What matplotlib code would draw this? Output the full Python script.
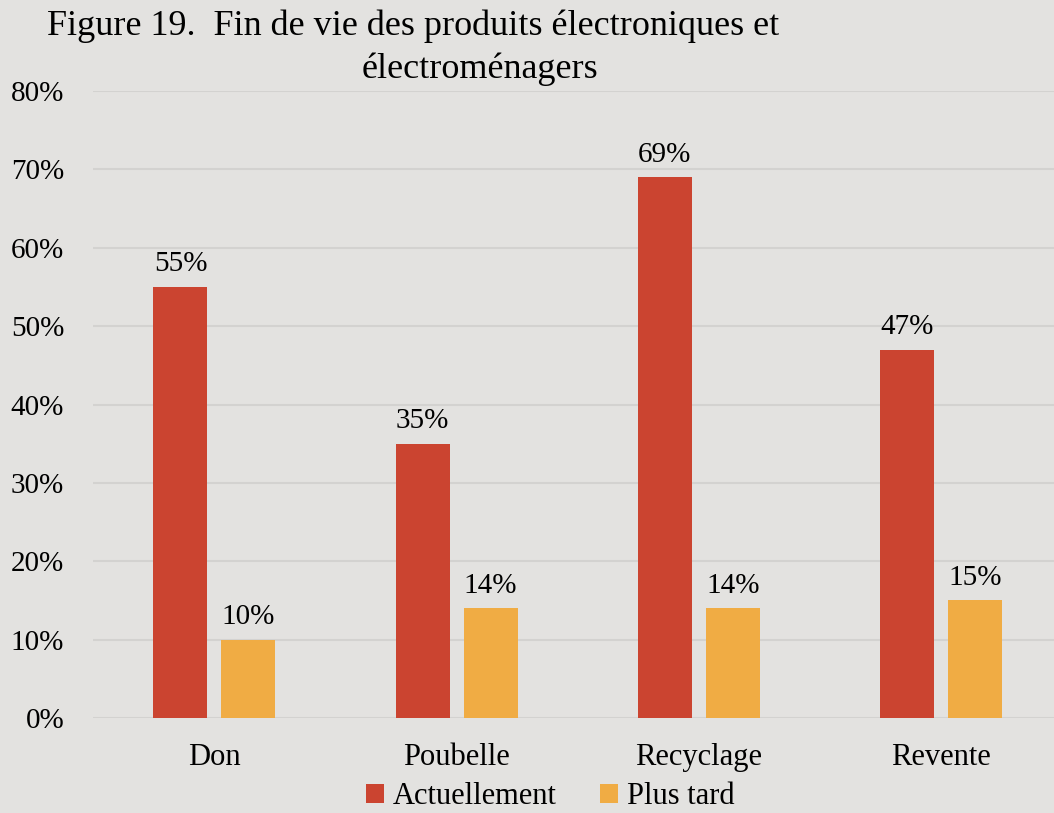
import matplotlib
matplotlib.use("Agg")
import matplotlib.pyplot as plt
import numpy as np

categories = ["Don", "Poubelle", "Recyclage", "Revente"]
actuellement = [55, 35, 69, 47]
plus_tard = [10, 14, 14, 15]
series_names = ["Actuellement", "Plus tard"]
yticks = [0, 10, 20, 30, 40, 50, 60, 70, 80]

BG = "#E3E2E0"
RED = "#CB4430"
ORANGE = "#F0AC44"
FONT = "Liberation Serif"

plt.rcParams["font.family"] = [FONT, "DejaVu Serif"]

fig = plt.figure(figsize=(10.54, 8.13), dpi=100, facecolor=BG)
# axes run slightly past the right edge, as in the reference
ax = fig.add_axes([0.0886, 0.1169, 0.919, 0.7711], facecolor=BG)

x = np.arange(len(categories))
w = 0.223
gap = 0.058
off = (w + gap) / 2
b1 = ax.bar(x - off, actuellement, w, color=RED, label=series_names[0], zorder=3)
b2 = ax.bar(x + off, plus_tard, w, color=ORANGE, label=series_names[1], zorder=3)

for bars, vals in [(b1, actuellement), (b2, plus_tard)]:
    for rect, v in zip(bars, vals):
        ax.annotate(f"{v}%", (rect.get_x() + rect.get_width() / 2, v),
                    xytext=(0, 7), textcoords="offset points",
                    ha="center", va="bottom", fontsize=21, color="#000000")

ax.set_xlim(-0.5, len(categories) - 0.5)
ax.set_ylim(0, 80)
ax.set_yticks(yticks)
ax.set_yticklabels([f"{t}%" for t in yticks], fontsize=21, color="#000000")
ax.set_xticks(x)
ax.set_xticklabels(categories, fontsize=22, color="#000000")
ax.tick_params(axis="both", length=0)
ax.tick_params(axis="y", pad=21)
ax.tick_params(axis="x", pad=18)
ax.grid(axis="y", color="#D3D2D0", linewidth=1.5, zorder=0)
for s in ax.spines.values():
    s.set_visible(False)

fig.text(0.392, 0.968, "Figure 19.  Fin de vie des produits électroniques et",
         ha="center", va="center", fontsize=26, color="#000000")
fig.text(0.455, 0.915, "électroménagers",
         ha="center", va="center", fontsize=26, color="#000000")

ax.legend(loc="center", bbox_to_anchor=(0.522, 0.02), bbox_transform=fig.transFigure,
          ncol=2, frameon=False, fontsize=22, handlelength=0.6, handleheight=0.6,
          handletextpad=0.3, columnspacing=1.4, borderpad=0)

fig.savefig("out.png", dpi=100, facecolor=BG)
